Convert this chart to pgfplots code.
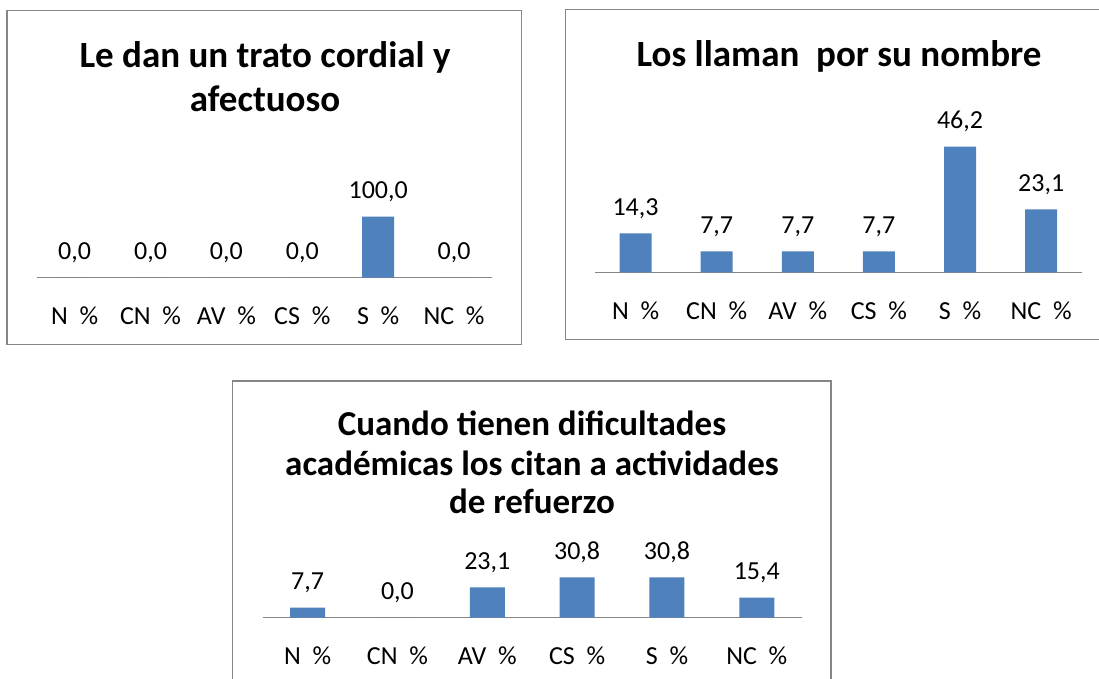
\documentclass[border=0pt]{standalone}
\usepackage{fontspec}
\setmainfont{Carlito}
\usepackage{pgfplots}
\pgfplotsset{compat=1.18}
\definecolor{barblue}{RGB}{79,129,189}
\definecolor{axgray}{RGB}{134,134,134}
\definecolor{boxgray}{RGB}{134,134,134}
\newcommand{\tfont}{\fontsize{37}{44}\selectfont\bfseries}
\newcommand{\tfontc}{\fontsize{35}{42}\selectfont\bfseries}
\newcommand{\lfont}{\fontsize{26}{30}\selectfont}
\pgfplotsset{mybar/.style={
  scale only axis, anchor=south west, clip=false,
  xmin=-0.5, xmax=5.5, ymin=0, enlargelimits=false,
  axis x line*=bottom, axis y line=none,
  x axis line style={draw=axgray, line width=1.5pt},
  xtick={0,...,5},
  xticklabels={N~~\%, CN~~\%, AV~~\%, CS~~\%, S~~\%, NC~~\%},
  xtick style={draw=none},
  xticklabel style={font=\lfont, anchor=base, inner sep=0pt, yshift=-43pt},
  ybar,
  nodes near coords,
  every node near coord/.append style={font=\lfont, anchor=base, inner sep=0pt, yshift=18pt},
  /pgf/number format/.cd, use comma, fixed, fixed zerofill, precision=1, assume math mode=true,
}}
\begin{document}
\begin{tikzpicture}[x=1pt,y=1pt]
\clip (0pt,0pt) rectangle (1099pt,679pt);
\fill[white] (0pt,0pt) rectangle (1099pt,679pt);
% boxes
\draw[boxgray, line width=1.5pt] (7pt,334.7pt) rectangle (521.3pt,668.7pt);
\draw[boxgray, line width=1.5pt] (565.3pt,339.7pt) rectangle (1113pt,669.3pt);
\draw[boxgray, line width=1.5pt] (232.7pt,-20pt) rectangle (831pt,298pt);
% titles
\node[font=\tfont, anchor=base] at (265pt,611pt) {Le dan un trato cordial y};
\node[font=\tfont, anchor=base] at (265pt,567pt) {afectuoso};
\node[font=\tfont, anchor=base] at (839pt,612pt) {Los llaman\ \ por su nombre};
\node[font=\tfontc, anchor=base] at (532pt,243pt) {Cuando tienen dificultades};
\node[font=\tfontc, anchor=base] at (532pt,203.5pt) {académicas los citan a actividades};
\node[font=\tfontc, anchor=base] at (532pt,165pt) {de refuerzo};
% chart 1
\begin{axis}[mybar, at={(36.7pt,401.3pt)}, width=455.3pt, height=67.1pt, ymax=110]
\addplot[fill=barblue, draw=none, bar width=32pt] coordinates {(0,0) (1,0) (2,0) (3,0) (4,100) (5,0)};
\end{axis}
% chart 2
\begin{axis}[mybar, at={(595pt,406.7pt)}, width=486.7pt, height=136pt, ymax=50]
\addplot[fill=barblue, draw=none, bar width=32pt] coordinates {(0,14.3) (1,7.7) (2,7.7) (3,7.7) (4,46.2) (5,23.1)};
\end{axis}
% chart 3
\begin{axis}[mybar, at={(262.7pt,61.3pt)}, width=539pt, height=45.85pt, ymax=35]
\addplot[fill=barblue, draw=none, bar width=35pt] coordinates {(0,7.7) (1,0) (2,23.1) (3,30.8) (4,30.8) (5,15.4)};
\end{axis}
\end{tikzpicture}
\end{document}
